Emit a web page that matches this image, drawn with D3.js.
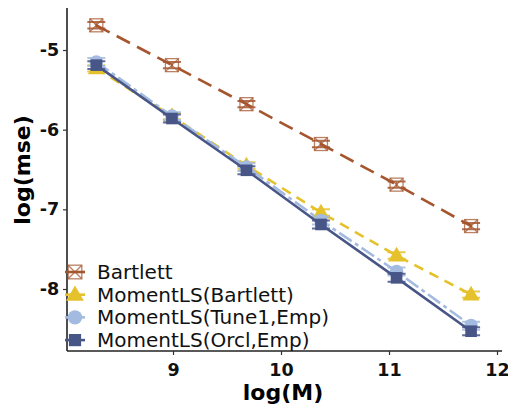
<!DOCTYPE html>
<html>
<head>
<meta charset="utf-8">
<script src="https://cdn.jsdelivr.net/npm/d3@7"></script>
<style>
  body { margin: 0; background: #fff; }
  text { font-family: "DejaVu Sans", sans-serif; }
</style>
</head>
<body>
<div id="chart"></div>
<script>
// datos
const logM = [8.29, 8.99, 9.68, 10.37, 11.07, 11.76];
const bartlett = [-4.69, -5.19, -5.68, -6.18, -6.69, -7.21];
const momentBartlett = [-5.23, -5.83, -6.45, -7.04, -7.58, -8.07];
const momentTune1 = [-5.15, -5.83, -6.47, -7.14, -7.78, -8.46];
const momentOrcl = [-5.19, -5.86, -6.51, -7.19, -7.86, -8.53];
const errBartlett = [0.04, 0.04, 0.04, 0.04, 0.04, 0.04];
const errMomentBartlett = [0.04, 0.04, 0.04, 0.04, 0.04, 0.04];
const errTune1 = [0.05, 0.05, 0.05, 0.05, 0.05, 0.05];
const errOrcl = [0.05, 0.05, 0.05, 0.05, 0.05, 0.05];
const seriesNames = ["Bartlett", "MomentLS(Bartlett)", "MomentLS(Tune1,Emp)", "MomentLS(Orcl,Emp)"];
const xTicks = [9, 10, 11, 12];
const yTicks = [-5, -6, -7, -8];

const series = [
  { name: seriesNames[0], y: bartlett, err: errBartlett, color: "#A5562F", dash: "15,8", shape: "boxx" },
  { name: seriesNames[1], y: momentBartlett, err: errMomentBartlett, color: "#E5C22C", dash: "10,7", shape: "triangle" },
  { name: seriesNames[2], y: momentTune1, err: errTune1, color: "#A3BBE0", dash: "15,4,4,4", shape: "circle" },
  { name: seriesNames[3], y: momentOrcl, err: errOrcl, color: "#485587", dash: null, shape: "square" }
];

const width = 508, height = 405;
const svg = d3.select("#chart").append("svg")
  .attr("width", width)
  .attr("height", height);

// Escalas
const x = d3.scaleLinear().domain([9, 12]).range([173, 497]);
const y = d3.scaleLinear().domain([-5, -8]).range([50, 289]);

// ejes
const xAxis = svg.append("g")
  .attr("transform", "translate(0,351)")
  .call(d3.axisBottom(x).tickValues(xTicks).tickFormat(d3.format("d")).tickSize(4).tickSizeOuter(0));
xAxis.select(".domain").attr("d", "M67,0H502").attr("stroke", "#222").attr("stroke-width", 1.6);

const yAxis = svg.append("g")
  .attr("transform", "translate(67,0)")
  .call(d3.axisLeft(y).tickValues(yTicks).tickFormat(d => "-" + Math.abs(d)).tickSize(4).tickSizeOuter(0));
yAxis.select(".domain").attr("d", "M0,8V351").attr("stroke", "#222").attr("stroke-width", 1.6);

svg.selectAll(".tick line").attr("stroke", "#333").attr("stroke-width", 1.2);
svg.selectAll(".tick text")
  .attr("font-size", 17.5)
  .attr("font-weight", "bold")
  .attr("fill", "#111")
  .attr("font-family", "DejaVu Sans");
xAxis.selectAll(".tick text").attr("dy", "1.0em");
yAxis.selectAll(".tick text").attr("dx", "-0.05em");

svg.append("text")
  .attr("x", 283).attr("y", 400)
  .attr("text-anchor", "middle")
  .attr("font-size", 22).attr("font-weight", "bold")
  .text("log(M)");

svg.append("text")
  .attr("transform", "translate(30,170) rotate(-90)")
  .attr("text-anchor", "middle")
  .attr("font-size", 22).attr("font-weight", "bold")
  .text("log(mse)");

function drawMarker(g, s, cx, cy, scale) {
  const k = scale || 1;
  if (s.shape === "boxx") {
    const h = 6.5 * k;
    g.append("rect").attr("x", cx - h).attr("y", cy - h).attr("width", 2 * h).attr("height", 2 * h)
      .attr("fill", "none").attr("stroke", s.color).attr("stroke-width", 1.3).attr("opacity", 0.75);
    g.append("path").attr("d", `M${cx - h},${cy - h}L${cx + h},${cy + h}M${cx - h},${cy + h}L${cx + h},${cy - h}`)
      .attr("stroke", s.color).attr("stroke-width", 1.3).attr("opacity", 0.75);
  } else if (s.shape === "triangle") {
    g.append("path").attr("d", d3.symbol().type(d3.symbolTriangle).size(125 * k * k)())
      .attr("transform", `translate(${cx},${cy + 1})`).attr("fill", s.color);
  } else if (s.shape === "circle") {
    g.append("circle").attr("cx", cx).attr("cy", cy).attr("r", 6.8 * k).attr("fill", s.color);
  } else {
    const h = 5.8 * k;
    g.append("rect").attr("x", cx - h).attr("y", cy - h).attr("width", 2 * h).attr("height", 2 * h)
      .attr("fill", s.color);
  }
}

const line = d3.line().x(d => x(d[0])).y(d => y(d[1]));

// Dibujar series
series.forEach(s => {
  const g = svg.append("g");
  const pts = logM.map((m, i) => [m, s.y[i], s.err[i]]);
  g.append("path")
    .attr("d", line(pts))
    .attr("fill", "none")
    .attr("stroke", s.color)
    .attr("stroke-width", 2.6)
    .attr("stroke-dasharray", s.dash);
  pts.forEach(p => {
    const cx = x(p[0]);
    const y0 = y(p[1] + p[2]), y1 = y(p[1] - p[2]);
    g.append("path")
      .attr("d", `M${cx - 9},${y0}H${cx + 9}M${cx - 9},${y1}H${cx + 9}M${cx},${y0}V${y1}`)
      .attr("stroke", s.color).attr("stroke-width", 2).attr("fill", "none").attr("opacity", 0.85);
    drawMarker(g, s, cx, y(p[1]), 1);
  });
});

// leyenda
const legend = svg.append("g");
series.forEach((s, i) => {
  const ly = 272 + i * 22.7;
  legend.append("line")
    .attr("x1", 65).attr("x2", 85).attr("y1", ly).attr("y2", ly)
    .attr("stroke", s.color).attr("stroke-width", 2.6);
  drawMarker(legend, s, 75, ly, 1.05);
  legend.append("text")
    .attr("x", 97).attr("y", ly + 7)
    .attr("font-size", 20)
    .attr("fill", "#111")
    .text(s.name);
});
</script>
</body>
</html>
